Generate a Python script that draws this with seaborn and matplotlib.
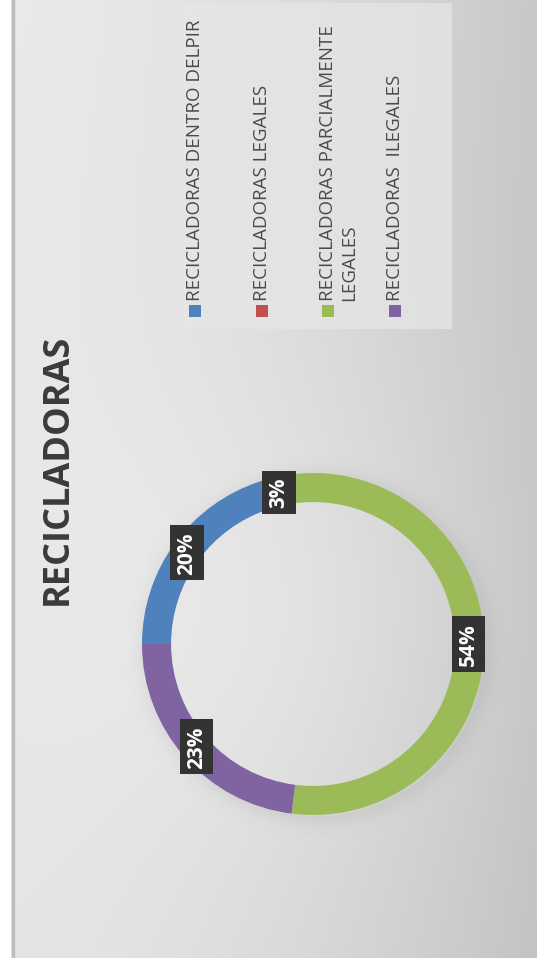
import numpy as np
import matplotlib
matplotlib.use("Agg")
import matplotlib.pyplot as plt
import seaborn as sns
from matplotlib.patches import Rectangle

# datos del grafico
categorias = ["RECICLADORAS DENTRO DELPIR", "RECICLADORAS LEGALES",
              "RECICLADORAS PARCIALMENTE\nLEGALES", "RECICLADORAS  ILEGALES"]
porcentajes = [20, 3, 54, 23]
colores = ["#4F81BD", "#C0504D", "#9BBB59", "#8064A2"]
titulo = "RECICLADORAS"

sns.set_theme(style="white")
plt.rcParams['font.family'] = ['Open Sans', 'DejaVu Sans']

W, H = 537, 970
fig = plt.figure(figsize=(W / 100, H / 100), dpi=100)
fig.patch.set_facecolor("white")

def fx(px):
    return px / W

def fy(py):
    return 1 - py / H

# fondo con degradado
bg = fig.add_axes([fx(11), fy(959), fx(W - 11), 959 / H])
xx, yy = np.meshgrid(np.linspace(0, 1, 300), np.linspace(0, 1, 500))
val = 0.915 - 0.13 * xx ** 1.6
d = np.sqrt(((xx - 0.55) * 1.0) ** 2 + ((yy - 0.65) * 1.8) ** 2)
val += 0.035 * np.exp(-(d / 0.45) ** 2)
val -= 0.02 * yy
val = np.clip(val, 0, 1)
bg.imshow(np.dstack([val, val, val]), aspect="auto", extent=[0, 1, 0, 1], origin="upper")
bg.axvline(0.003, color="#bdbdbd", lw=2.5)
bg.set_axis_off()

# sombra suave del anillo
cx, cy, R = 313, 645, 171
sh = fig.add_axes([fx(cx - R - 40), fy(cy + R + 40), fx(2 * R + 80), (2 * R + 80) / H])
sh.set_xlim(-1, 1)
sh.set_ylim(-1, 1)
n = 14
for k in range(n):
    r = (R - 2 + k * 2.0) / (R + 40)
    sh.add_patch(plt.Circle((0.015, -0.015), r, fill=False, lw=2.5,
                            color="black", alpha=0.03 * ((n - k) / n) ** 2))
sh.set_axis_off()

# anillo
ax = fig.add_axes([fx(cx - R), fy(cy + R), fx(2 * R), 2 * R / H])
wedges, _ = ax.pie(porcentajes, colors=colores, startangle=180, counterclock=False,
                   wedgeprops=dict(width=0.17, edgecolor="none"))
ax.set_xlim(-1, 1)
ax.set_ylim(-1, 1)
ax.set_aspect("auto")

# etiquetas de porcentaje
for w, p in zip(wedges, porcentajes):
    ang = np.deg2rad((w.theta1 + w.theta2) / 2)
    r = 0.91
    ax.text(r * np.cos(ang), r * np.sin(ang), f"{p}%", rotation=90,
            ha="center", va="center", color="white", fontsize=15, fontweight="bold",
            bbox=dict(boxstyle="square,pad=0.3", facecolor="#333333", edgecolor="none"))

# titulo
fig.text(fx(58), fy(469), titulo, rotation=90, ha="center", va="center",
         fontsize=26, fontweight="bold", color="#3a3a3a")

# leyenda
fig.patches.append(Rectangle((fx(177), fy(330)), fx(452 - 177), 326 / H,
                             transform=fig.transFigure, facecolor="#e6e6e6",
                             edgecolor="none", alpha=0.75))
ley_x = [195, 262, 328, 395]
for xpos, cat, col in zip(ley_x, categorias, colores):
    fig.patches.append(Rectangle((fx(xpos - 6), fy(318)), fx(12), 12 / H,
                                 transform=fig.transFigure, facecolor=col, edgecolor="none"))
    fig.text(fx(xpos - 9), fy(301), cat, rotation=90, ha="left", va="bottom",
             fontsize=13.5, color="#4a4a4a", linespacing=1.2,
             multialignment="left")

fig.savefig("out.png", dpi=100)
